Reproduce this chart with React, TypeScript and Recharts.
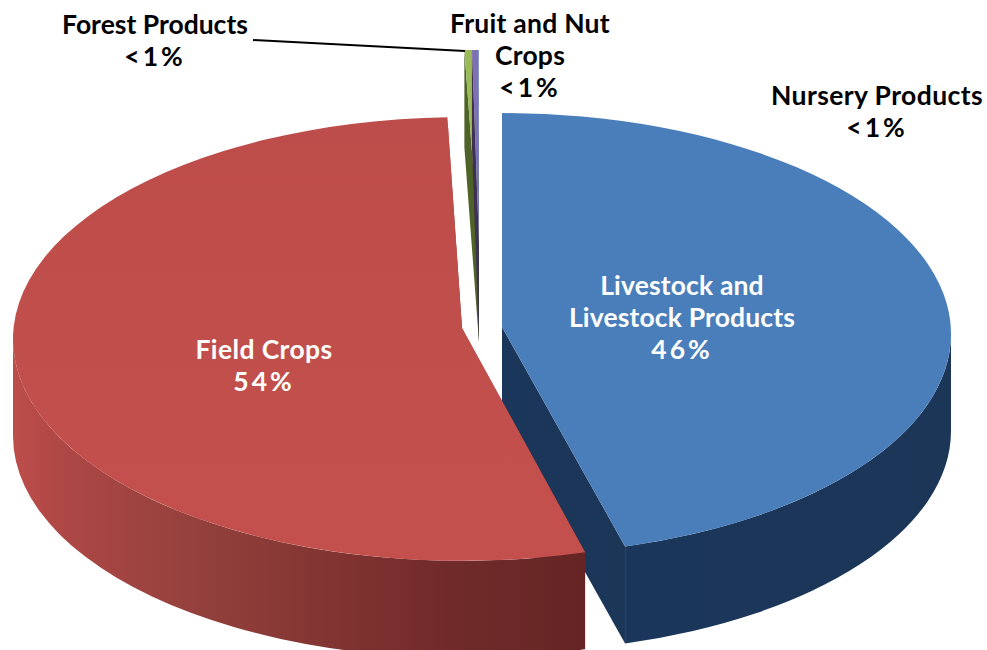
import { PieChart, Pie } from 'recharts';

const SLICE_NAMES = ['Forest Products', 'Fruit and Nut Crops', 'Nursery Products', 'Livestock and Livestock Products', 'Field Crops'];
const SLICE_VALUES = [0.27, 0.24, 0.01, 45.58, 53.9];
const chartData = SLICE_NAMES.map((name, i) => ({ name, value: SLICE_VALUES[i] }));

const WIDTH = 987;
const HEIGHT = 650;
const CX = 481;
const CY = 334;
const RADIUS = 449;
const DEPTH = 97;

// fake 3d look per slice: explode offset, flattening, how far the tip sits above the ellipse centre, colours
const SLICE_STYLE: Record<string, any> = {
  'Forest Products': { dx: -2, dy: -65, tilt: 0.488, lift: 24, top: '#9bbb59', wall: '#4f6228' },
  'Fruit and Nut Crops': { dx: -2, dy: -65, tilt: 0.488, lift: 24, top: '#7f70b4', wall: '#3f3151' },
  'Nursery Products': { dx: -2, dy: -65, tilt: 0.488, lift: 24, top: '#4bacc6', wall: '#205867' },
  'Livestock and Livestock Products': { dx: 21, dy: 0, tilt: 0.492, lift: 7, top: '#4a7ebb', wall: 'url(#blueWall)' },
  'Field Crops': { dx: -19, dy: 5, tilt: 0.494, lift: 11, top: 'url(#redTop)', wall: 'url(#redWall)' },
};

// label lines per slice, anchor, baselines and letter spacing
const LABEL_STYLE: Record<string, any> = {
  'Forest Products': { x: 155, lines: ['Forest Products'], ys: [34, 66], fill: '#000', spacing: 0 },
  'Fruit and Nut Crops': { x: 530, lines: ['Fruit and Nut', 'Crops'], ys: [33, 65, 97], fill: '#000', spacing: 0.25 },
  'Nursery Products': { x: 877, lines: ['Nursery Products'], ys: [105, 137], fill: '#000', spacing: 0.4 },
  'Livestock and Livestock Products': { x: 682, lines: ['Livestock and', 'Livestock Products'], ys: [295, 327, 359], fill: '#fff', spacing: 0.15 },
  'Field Crops': { x: 264, lines: ['Field Crops'], ys: [359, 391], fill: '#fff', spacing: 0.4 },
};

const rad = (deg: number) => (deg * Math.PI) / 180;

function Slice3D(props: any) {
  const { cx, cy, startAngle, endAngle, outerRadius, name } = props;
  const s = SLICE_STYLE[name];
  const rx = outerRadius;
  const ry = outerRadius * s.tilt;
  const ox = cx + s.dx;
  const oy = cy + s.dy;
  const at = (a: number) => [ox + rx * Math.cos(rad(a)), oy - ry * Math.sin(rad(a))];
  const apex = [ox, oy - s.lift];
  const p0 = at(startAngle);
  const p1 = at(endAngle);
  const large = startAngle - endAngle > 180 ? 1 : 0;
  const topPath = `M${apex} L${p0} A${rx} ${ry} 0 ${large} 1 ${p1} Z`;

  // the cut faces, extruded straight down
  const cut = (p: number[]) =>
    `M${apex} L${p} L${[p[0], p[1] + DEPTH]} L${[apex[0], apex[1] + DEPTH]} Z`;

  // outer wall, only the part on the near side of the ellipse
  const walls: string[] = [];
  for (const k of [-1, 0, 1]) {
    const hi = Math.min(startAngle, 360 * k);
    const lo = Math.max(endAngle, -180 + 360 * k);
    if (hi > lo) {
      const a = at(hi);
      const b = at(lo);
      walls.push(
        `M${a} A${rx} ${ry} 0 0 1 ${b} L${[b[0], b[1] + DEPTH]} A${rx} ${ry} 0 0 0 ${[a[0], a[1] + DEPTH]} Z`
      );
    }
  }

  return (
    <g>
      <path d={cut(p0)} fill={s.wall} />
      <path d={cut(p1)} fill={s.wall} />
      {walls.map((d, i) => (
        <path key={i} d={d} fill={s.wall} />
      ))}
      <path d={topPath} fill={s.top} />
    </g>
  );
}

function SliceLabel(props: any) {
  const { name, percent } = props;
  const l = LABEL_STYLE[name];
  const pct = percent < 0.01 ? '<1%' : `${Math.round(percent * 100)}%`;
  const rows = [...l.lines, pct];
  return (
    <g>
      {name === 'Forest Products' && <line x1={253} y1={40} x2={465} y2={51} stroke="#000" strokeWidth={2} />}
      {rows.map((row: string, i: number) => (
        <text
          key={i}
          x={l.x}
          y={l.ys[i]}
          textAnchor="middle"
          fill={l.fill}
          fontFamily="Lato, sans-serif"
          fontWeight={700}
          fontSize={26.5}
          letterSpacing={i === rows.length - 1 ? 3 : l.spacing}
        >
          {row}
        </text>
      ))}
    </g>
  );
}

export default function App() {
  return (
    <div style={{ position: 'absolute', left: 0, top: 0, width: WIDTH, height: HEIGHT }}>
      <PieChart width={WIDTH} height={HEIGHT} margin={{ top: 0, right: 0, bottom: 0, left: 0 }}>
        <defs>
          <linearGradient id="redWall" x1="0" y1="0" x2="1" y2="0">
            <stop offset="0%" stopColor="#bd4d4a" />
            <stop offset="10%" stopColor="#ac4745" />
            <stop offset="33%" stopColor="#93403c" />
            <stop offset="59%" stopColor="#7f3230" />
            <stop offset="77%" stopColor="#702a2a" />
            <stop offset="100%" stopColor="#652524" />
          </linearGradient>
          <linearGradient id="redTop" x1="0" y1="0" x2="0" y2="1">
            <stop offset="0%" stopColor="#bd4d4a" />
            <stop offset="100%" stopColor="#c4504d" />
          </linearGradient>
          <linearGradient id="blueWall" x1="0" y1="0" x2="1" y2="0">
            <stop offset="0%" stopColor="#1a365a" />
            <stop offset="100%" stopColor="#1c3658" />
          </linearGradient>
        </defs>
        <Pie
          data={chartData}
          dataKey="value"
          nameKey="name"
          cx={CX}
          cy={CY}
          outerRadius={RADIUS}
          startAngle={91.87}
          endAngle={-268.13}
          shape={Slice3D}
          label={SliceLabel}
          labelLine={false}
          isAnimationActive={false}
        />
      </PieChart>
    </div>
  );
}
